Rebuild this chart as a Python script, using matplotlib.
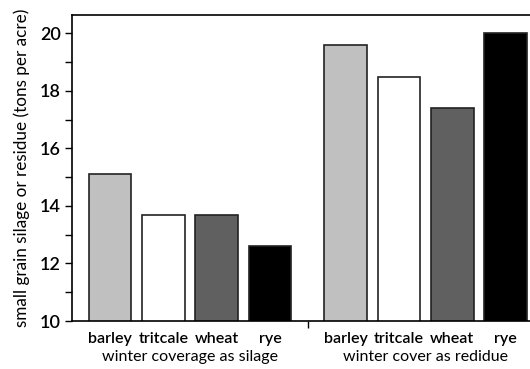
import matplotlib.pyplot as plt
from matplotlib.ticker import MultipleLocator

crops = ["barley", "tritcale", "wheat", "rye"]
silage = [15.1, 13.7, 13.7, 12.6]
residue = [19.6, 18.5, 17.4, 20.0]
groups = ["winter coverage as silage", "winter cover as redidue"]
colors = ["#c0c0c0", "#ffffff", "#606060", "#000000"]

plt.rcParams['font.family'] = ['Lato', 'DejaVu Sans']

fig = plt.figure(figsize=(5.3, 3.69), dpi=100)
ax = fig.add_axes([72 / 530, 1 - 321 / 369, 1 - 72 / 530 + 0.01, (321 - 15) / 369])

gap = 1.42
x1 = [i for i in range(len(crops))]
x2 = [i + len(crops) - 1 + gap for i in range(len(crops))]

ax.bar(x1, silage, width=0.8, color=colors, edgecolor="#222222", linewidth=1.2)
ax.bar(x2, residue, width=0.8, color=colors, edgecolor="#222222", linewidth=1.2)

ax.set_ylim(10, 20.64)
ax.set_xlim(-0.715, 7.975)
ax.yaxis.set_major_locator(MultipleLocator(2))
ax.yaxis.set_minor_locator(MultipleLocator(1))
ax.tick_params(axis='y', which='both', direction='out', length=5, width=1.0,
               labelsize=13, pad=3)
for lbl in ax.get_yticklabels():
    lbl.set_fontweight('semibold')

mid = (x1[-1] + x2[0]) / 2
ax.set_xticks([mid])
ax.set_xticklabels([""])
ax.tick_params(axis='x', length=5, width=1.0)

for sp in ["left", "top", "bottom"]:
    ax.spines[sp].set_linewidth(1.2)
ax.spines["right"].set_visible(False)

# crop names under each bar, group names under each set
for xs in (x1, x2):
    for x, name in zip(xs, crops):
        ax.text(x, 9.38, name, ha='center', va='center', fontsize=11.5,
                fontweight='semibold', clip_on=False)
ax.text((x1[1] + x1[2]) / 2, 8.75, groups[0], ha='center', va='center',
        fontsize=11.5, clip_on=False)
ax.text((x2[1] + x2[2]) / 2, 8.75, groups[1], ha='center', va='center',
        fontsize=11.5, clip_on=False)

ax.set_ylabel("small grain silage or residue (tons per acre)", fontsize=12.3, labelpad=7)

fig.savefig("out.png", dpi=100)
